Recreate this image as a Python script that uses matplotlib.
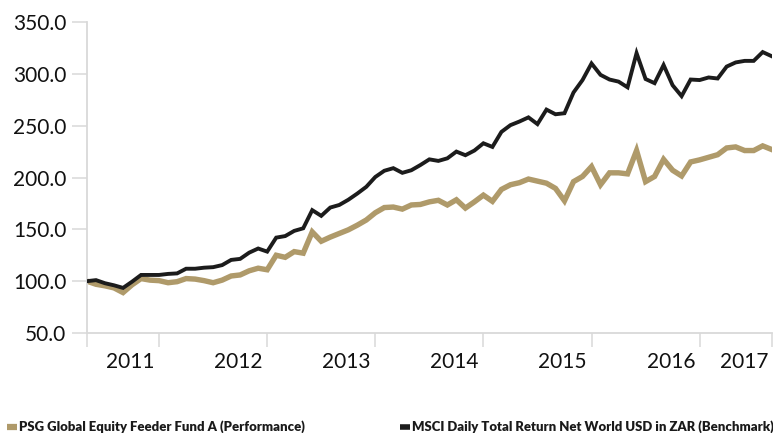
import matplotlib
matplotlib.use("Agg")
import matplotlib.pyplot as plt
from matplotlib.lines import Line2D

# ---- data (monthly index values, start = 100) ----
fund = [100, 97, 95.5, 93.5, 89, 96.5, 102.5, 101, 100.5, 98.5,
        99.5, 102.5, 102, 100.5, 98.5, 101, 105, 106, 110, 112.5,
        111, 125, 123, 128.5, 127, 147.5, 138.5, 142.5, 146, 149.5,
        154, 159, 166, 171, 171.5, 169.5, 173.5, 174, 176.5, 178,
        173.5, 178.5, 170.5, 176.5, 183, 177, 188.5, 193, 195, 198.5,
        196.5, 194.5, 189.5, 177.5, 196, 201, 210.5, 193, 204.5, 204.5,
        203.5, 226, 196, 201, 217.5, 207, 201.5, 215, 217, 219.5,
        222, 228.5, 229.5, 226, 226, 230.5, 227]
bench = [100, 101, 98, 96, 93.5, 99.5, 106, 106, 106, 107,
         107.5, 112, 112, 113, 113.5, 115.5, 120.5, 121.5, 127.5, 131.5,
         128.5, 142, 143.5, 148.5, 151, 168.5, 163, 171, 173.5, 178.5,
         184.5, 191, 200.5, 206.5, 209, 204.5, 207, 212, 217.5, 216,
         218.5, 225, 221.5, 226, 233, 229.5, 244, 250.5, 254, 258,
         251.5, 265.5, 261, 262, 282, 294, 310, 299, 294.5, 292.5,
         287, 320, 295, 291, 308.5, 289, 278.5, 294.5, 294, 296.5,
         295.5, 307, 311, 312.5, 312.5, 321, 317]
year_labels = ["2011", "2012", "2013", "2014", "2015", "2016", "2017"]
fund_name = "PSG Global Equity Feeder Fund A (Performance)"
bench_name = "MSCI Daily Total Return Net World USD in ZAR (Benchmark)"

# ---- style ----
BRONZE = "#AF9A6A"
BLACK = "#1C1C1C"
GREY = "#D9D9D9"
FONT = ["Lato", "DejaVu Sans"]
plt.rcParams["font.family"] = FONT

W, H = 773, 433
fig = plt.figure(figsize=(W / 100, H / 100), dpi=100)
ax = fig.add_axes([87 / W, 1 - 333 / H, (771.7 - 87) / W, (333 - 22) / H])

x = list(range(len(bench)))
ax.plot(x, fund, color=BRONZE, lw=3.9, solid_joinstyle="miter", zorder=2)
ax.plot(x, bench, color=BLACK, lw=2.8, solid_joinstyle="miter", zorder=3)

ax.set_xlim(0, len(bench) - 1)
ax.set_ylim(50, 350)

for s in ["top", "right"]:
    ax.spines[s].set_visible(False)
for s in ["left", "bottom"]:
    ax.spines[s].set_color(GREY)
    ax.spines[s].set_linewidth(1.3)

yt = list(range(50, 351, 50))
ax.set_yticks(yt)
ax.set_yticklabels([f"{v:.1f}" for v in yt])
ax.tick_params(axis="y", length=11, width=1.1, color=GREY, pad=4,
               labelsize=15, labelcolor="#111111")

# boundary ticks between years (no labels)
ax.set_xticks([0, 8, 20, 32, 44, 56, 68, 76])
ax.set_xticklabels([""] * 8)
ax.tick_params(axis="x", which="major", length=10, width=1.1, color=GREY)
# year labels
ax.set_xticks([4.8, 16.8, 28.8, 40.8, 52.8, 64.8, 73.0], minor=True)
ax.set_xticklabels(year_labels, minor=True)
ax.tick_params(axis="x", which="minor", length=0, pad=14, labelsize=15,
               labelcolor="#111111")

LFONT = dict(family=["Lato", "DejaVu Sans"], weight="heavy", size=9.45)
h1 = Line2D([], [], color=BRONZE, lw=4.5, solid_capstyle="butt")
h2 = Line2D([], [], color=BLACK, lw=4.0, solid_capstyle="butt")
leg1 = fig.legend([h1], [fund_name], loc="center left",
                  bbox_to_anchor=(4 / W, 1 - 427 / H), frameon=False,
                  prop=LFONT, handlelength=0.8, handletextpad=0.15,
                  borderaxespad=0, borderpad=0.2)
leg2 = fig.legend([h2], [bench_name], loc="center left",
                  bbox_to_anchor=(397 / W, 1 - 427 / H), frameon=False,
                  prop=LFONT, handlelength=0.8, handletextpad=0.15,
                  borderaxespad=0, borderpad=0.2)
for lg in (leg1, leg2):
    for t in lg.get_texts():
        t.set_color("#1a1a1a")

fig.savefig("out.png", dpi=100)
